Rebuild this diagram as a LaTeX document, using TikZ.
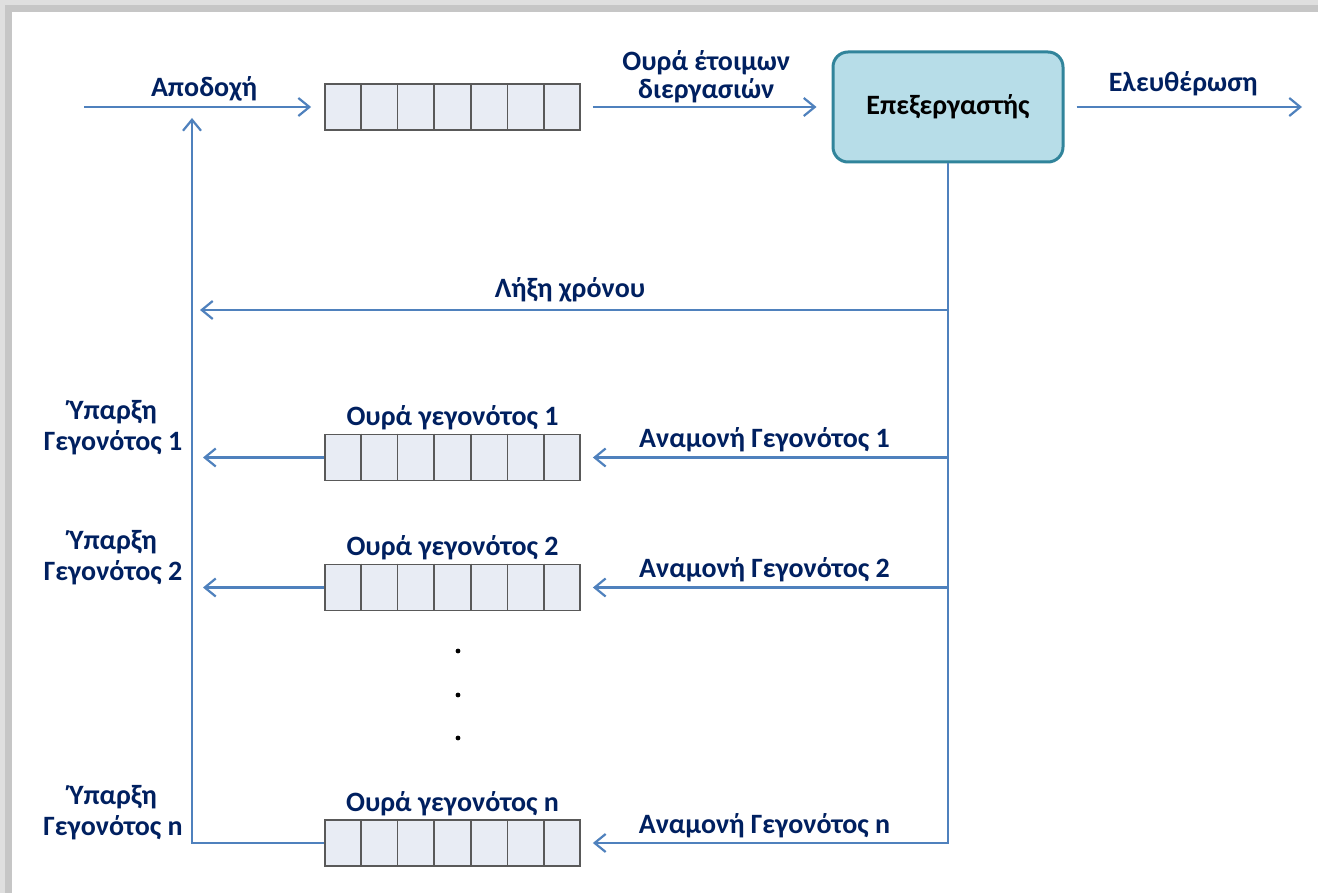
\documentclass[tikz,border=0pt]{standalone}
\usepackage{fontspec}
\setmainfont{Carlito}
\usetikzlibrary{positioning, calc, arrows.meta}

\definecolor{flowblue}{RGB}{79,129,189}
\definecolor{labelnavy}{RGB}{0,32,96}
\definecolor{cellfill}{RGB}{232,236,244}
\definecolor{cpufill}{RGB}{183,221,232}
\definecolor{cpuedge}{RGB}{49,132,155}

\begin{document}
\begin{tikzpicture}[
    x=1pt, y=-1pt,
    >={Straight Barb[length=11pt, width=18pt]},
    flow/.style={->, draw=flowblue, line width=2.2pt},
    lbl/.style={font=\fontsize{28}{31}\selectfont\bfseries, text=labelnavy, align=center},
    queue/.style={
        draw=black!65, fill=cellfill, line width=1.8pt,
        minimum width=255pt, minimum height=46pt, inner sep=0pt
    },
    cell/.style={draw=black!65, line width=1.8pt},
    cpu/.style={
        draw=cpuedge, fill=cpufill, line width=3pt, rounded corners=15pt,
        minimum width=230pt, minimum height=110pt, font=\fontsize{28}{31}\selectfont\bfseries
    }
]

% page frame with its shadow
\useasboundingbox (0,0) rectangle (1318,893);
\fill[gray!25] (0,0) rectangle (1318,893);
\fill[gray!45] (5,5) rectangle (1318,893);
\fill[white] (12,12) rectangle (1318,893);

\node[queue] (ready) at (452.5,107) {};
\node[cpu] (cpu) at (948,107) {Επεξεργαστής};

\node[queue] (ev1) at (452.5,457.5) {};
\node[queue] (ev2) at (452.5,587.5) {};
\node[queue] (evn) at (452.5,843) {};

\foreach \q in {ready, ev1, ev2, evn}
    \foreach \i in {1,...,6}
        \draw[cell] ($(\q.north west)!\i/7!(\q.north east)$) -- ($(\q.south west)!\i/7!(\q.south east)$);

\coordinate (in) at (84,107);
\coordinate (out) at (1302,107);
\coordinate (ret) at (192,107);
\coordinate (timeout) at (948,310);

\draw[flow, shorten >=13pt] (in) -- (ready.west) node[lbl, midway, above=1pt] {Αποδοχή};
\draw[flow, shorten <=12pt, shorten >=15pt] (ready.east) -- (cpu.west)
    node[lbl, midway, above=0pt] {Ουρά έτοιμων\\[-3pt]διεργασιών};
\draw[flow, shorten <=12pt] (cpu.east) -- (out) node[lbl, midway, above=7pt] {Ελευθέρωση};

\draw[flow, shorten >=12pt] (cpu.south) |- (evn.east)
    node[lbl, pos=0.75, above=1pt] {Αναμονή Γεγονότος n};
\draw[flow, shorten >=11pt] (evn.west) -| (ret);
\draw[flow, shorten >=8pt] (timeout) -- (ret |- timeout) node[lbl, midway, above=3pt] {Λήξη χρόνου};

\foreach \q/\k in {ev1/1, ev2/2} {
    \draw[flow, shorten >=12pt] (cpu.south |- \q) -- (\q.east)
        node[lbl, midway, above=1pt] {Αναμονή Γεγονότος \k};
    \draw[flow, shorten >=11pt] (\q.west) -- (ret |- \q);
}

\foreach \q/\k/\y in {ev1/1/457.5, ev2/2/587.5, evn/n/843} {
    \node[lbl, above=0pt of \q] (\q name) {Ουρά γεγονότος \k};
    \node[lbl] (\q occ) at (113,\y-30) {Ύπαρξη\\Γεγονότος \k};
}

\foreach \y in {651, 695, 738}
    \fill (458,\y) circle (2.4pt);

\end{tikzpicture}
\end{document}
